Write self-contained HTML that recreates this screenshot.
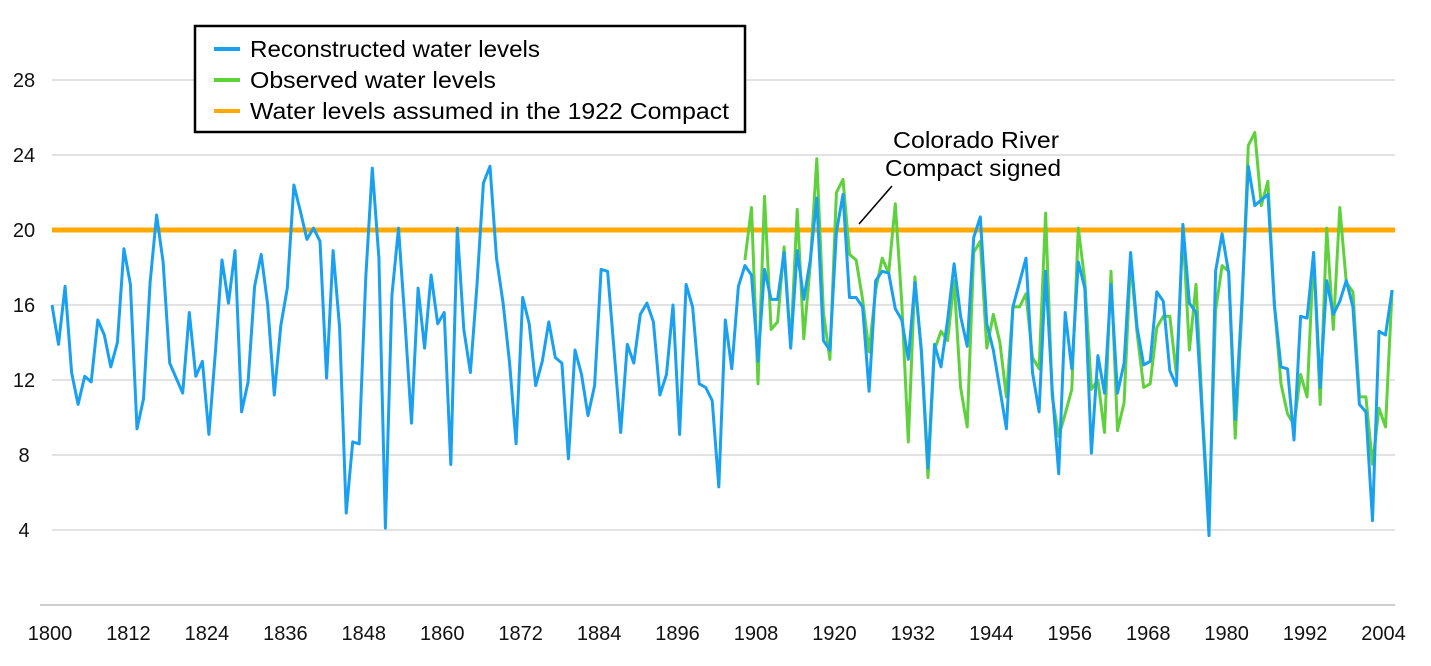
<!DOCTYPE html>
<html><head><meta charset="utf-8"><style>
html,body{margin:0;padding:0;background:#fff;}
svg{display:block;font-family:"Liberation Sans Narrow","Liberation Sans",sans-serif;}
</style></head><body>
<svg id="chart" width="1431" height="666" viewBox="0 0 1431 666" xmlns="http://www.w3.org/2000/svg">
<g id="grid"></g>
<g id="yticks"></g>
<g id="xticks"></g>
<g id="series"></g>
<g>
<rect x="195" y="26" width="550" height="106" fill="#fff" stroke="#000" stroke-width="2.5"/>
<line x1="214" y1="49" x2="240" y2="49" stroke="#1aa0f0" stroke-width="4"/>
<text x="250" y="57" font-size="23" textLength="290" lengthAdjust="spacingAndGlyphs">Reconstructed water levels</text>
<line x1="214" y1="80" x2="240" y2="80" stroke="#5fd13c" stroke-width="4"/>
<text x="250" y="88" font-size="23" textLength="246" lengthAdjust="spacingAndGlyphs">Observed water levels</text>
<line x1="214" y1="111" x2="240" y2="111" stroke="#ffa800" stroke-width="4"/>
<text x="250" y="119" font-size="23" textLength="479" lengthAdjust="spacingAndGlyphs">Water levels assumed in the 1922 Compact</text>
</g>
<g>
<text x="976" y="148" font-size="23" text-anchor="middle" textLength="166" lengthAdjust="spacingAndGlyphs">Colorado River</text>
<text x="973" y="176" font-size="23" text-anchor="middle" textLength="176" lengthAdjust="spacingAndGlyphs">Compact signed</text>
<line x1="892" y1="186" x2="859" y2="224" stroke="#000" stroke-width="1.5"/>
</g>
</svg>
<script>
const startYear = 1800;
const reconstructed = [16,13.9,17,12.4,10.7,12.2,11.9,15.2,14.4,12.7,
14,19,17.1,9.4,11,17.2,20.8,18.3,12.9,12.1,
11.3,15.6,12.2,13,9.1,13.5,18.4,16.1,18.9,10.3,
11.9,17,18.7,16,11.2,14.9,16.9,22.4,21,19.5,
20.1,19.4,12.1,18.9,14.8,4.9,8.7,8.6,17.5,23.3,
18.5,4.1,16.5,20.1,15.1,9.7,16.9,13.7,17.6,15,
15.6,7.5,20.1,14.7,12.4,17,22.5,23.4,18.5,16.1,
12.9,8.6,16.4,15,11.7,13,15.1,13.2,12.9,7.8,
13.6,12.3,10.1,11.7,17.9,17.8,13.5,9.2,13.9,12.9,
15.5,16.1,15.1,11.2,12.3,16,9.1,17.1,15.9,11.8,
11.6,10.9,6.3,15.2,12.6,17,18.1,17.6,13,17.9,
16.3,16.3,18.8,13.7,18.9,16.3,18.4,21.7,14.1,13.6,
19.9,21.9,16.4,16.4,15.9,11.4,17.3,17.8,17.7,15.8,
15.2,13.1,17.2,13.6,7.3,13.9,12.7,15.2,18.2,15.4,
13.8,19.6,20.7,15,13.6,11.5,9.4,15.9,17.2,18.5,
12.4,10.3,17.8,11.5,7,15.6,12.6,18.3,16.9,8.1,
13.3,11.3,17.1,11.3,12.9,18.8,14.8,12.8,13,16.7,
16.2,12.5,11.7,20.3,16.1,15.6,9.9,3.7,17.8,19.8,
17.7,9.9,16,23.4,21.3,21.6,21.9,16,12.7,12.6,
8.8,15.4,15.3,18.8,11.6,17.3,15.5,16.2,17.3,15.9,
10.7,10.3,4.5,14.6,14.4,16.8];
const observedStart = 1906;
const observed = [18.4,21.2,11.8,21.8,
14.7,15.1,19.1,13.8,21.1,14.2,18.2,23.8,15.6,13.1,
22,22.7,18.7,18.4,16.3,13.5,16.8,18.5,17.7,21.4,
16.1,8.7,17.5,13.4,6.8,13.6,14.6,14.1,17.3,11.6,
9.5,18.8,19.4,13.7,15.5,14,11.1,15.9,15.9,16.6,
13.2,12.6,20.9,11.1,9,10.2,11.5,20.1,17.3,11.5,
12,9.2,17.8,9.3,10.8,18.4,14.5,11.6,11.8,14.8,
15.4,15.4,12.3,20,13.6,17.1,10.2,4.5,15.7,18.1,
17.8,8.9,15.5,24.5,25.2,21.3,22.6,16,11.8,10.2,
9.6,12.3,11.1,18.8,10.7,20.1,14.7,21.2,17.2,16.7,
11.1,11.1,7.5,10.5,9.5,16.8];
const compactLevel = [20];
const yTicks = [4,8,12,16,20,24,28];
const xTickYears = [1800,1812,1824,1836,1848,1860,1872,1884,1896,1908,1920,1932,1944,1956,1968,1980,1992,2004];

const NS = "http://www.w3.org/2000/svg";
const X0 = 52, PX_PER_YEAR = 6.537, Y0 = 605, PX_PER_UNIT = 18.75;
function xScale(year){ return X0 + (year - startYear) * PX_PER_YEAR; }
function yScale(v){ return Y0 - v * PX_PER_UNIT; }
function mk(tag, attrs, parent){ const e = document.createElementNS(NS, tag); for (const k in attrs) e.setAttribute(k, attrs[k]); parent.appendChild(e); return e; }

const grid = document.getElementById('grid');
const yt = document.getElementById('yticks');
const xt = document.getElementById('xticks');
const ser = document.getElementById('series');

const base = mk('line', {x1: 40, x2: 1395, y1: yScale(0), y2: yScale(0), stroke: '#bdbdbd', 'stroke-width': 1.5}, grid);


yTicks.forEach(v => {
  const g = mk('line', {x1: 52, x2: 1395, y1: yScale(v), y2: yScale(v), stroke: '#d9d9d9', 'stroke-width': 1.5}, grid);
  
  
  const t = mk('text', {x: 24, y: yScale(v) + 7, 'font-size': 20, 'text-anchor': 'middle', fill: '#111'}, yt);
  t.textContent = v;
  
  
});
xTickYears.forEach(yr => {
  const t = mk('text', {x: xScale(yr) - 2, y: 640, 'font-size': 20, 'text-anchor': 'middle', fill: '#111'}, xt);
  t.textContent = yr;
  
  
});

const comp = mk('line', {x1: 52, x2: 1395, y1: yScale(compactLevel[0]), y2: yScale(compactLevel[0]), stroke: '#ffa800', 'stroke-width': 5}, ser);



const obsPts = observed.map((v, i) => xScale(observedStart + i).toFixed(1) + ',' + yScale(v).toFixed(1)).join(' ');
const obs = mk('polyline', {points: obsPts, fill: 'none', stroke: '#5fd13c', 'stroke-width': 3, 'stroke-linejoin': 'round'}, ser);



const recPts = reconstructed.map((v, i) => xScale(startYear + i).toFixed(1) + ',' + yScale(v).toFixed(1)).join(' ');
const rec = mk('polyline', {points: recPts, fill: 'none', stroke: '#1aa0f0', 'stroke-width': 3, 'stroke-linejoin': 'round'}, ser);


</script>
</body></html>
